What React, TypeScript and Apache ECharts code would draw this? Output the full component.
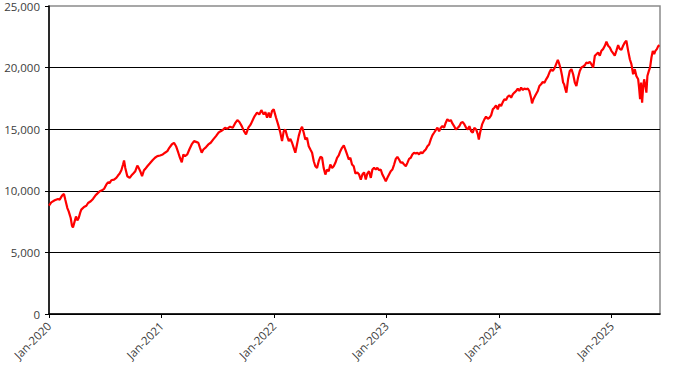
import React, { useEffect, useRef } from "react";
import * as echarts from "echarts";

// time in years since Jan-2020
const t = [
  0.000, 0.020, 0.051, 0.080, 0.095, 0.116, 0.133, 0.145, 0.163, 0.175, 0.193, 0.204, 0.213, 0.228, 0.240, 0.252, 0.264, 0.278, 0.287, 0.311,
  0.332, 0.347, 0.371, 0.391, 0.412, 0.429, 0.451, 0.471, 0.489, 0.509, 0.524, 0.540, 0.554, 0.578, 0.598, 0.613, 0.628, 0.643, 0.658, 0.667,
  0.678, 0.696, 0.717, 0.732, 0.749, 0.767, 0.785, 0.797, 0.815, 0.827, 0.844, 0.856, 0.874, 0.895,
  0.920, 0.942, 0.963, 0.987, 1.011, 1.031, 1.052, 1.069, 1.091, 1.111, 1.129, 1.149, 1.164, 1.180, 1.194, 1.209, 1.229, 1.247, 1.268, 1.289,
  1.313, 1.327, 1.342, 1.357, 1.372, 1.396, 1.416, 1.437, 1.460, 1.484, 1.505, 1.526, 1.544, 1.564, 1.585, 1.609, 1.633, 1.653, 1.674, 1.692,
  1.713, 1.733, 1.751, 1.772, 1.793, 1.816,
  1.828, 1.849, 1.869, 1.887, 1.908, 1.923, 1.938, 1.953, 1.967, 1.982, 1.997, 2.018, 2.036, 2.056, 2.071, 2.086, 2.100, 2.116, 2.131, 2.145,
  2.160, 2.175, 2.189, 2.204, 2.219, 2.234, 2.249, 2.264, 2.278, 2.293, 2.308, 2.323, 2.338, 2.353, 2.367, 2.382, 2.397, 2.412, 2.427, 2.441,
  2.456, 2.471, 2.486, 2.500, 2.516, 2.530, 2.545, 2.560, 2.575, 2.589, 2.604, 2.620, 2.634, 2.649, 2.664, 2.678, 2.693, 2.708, 2.723,
  2.740, 2.756, 2.771, 2.785, 2.800, 2.815, 2.829, 2.844, 2.860, 2.874, 2.889, 2.904, 2.918, 2.933, 2.948, 2.963, 2.978, 2.993, 3.007, 3.022,
  3.037, 3.052, 3.067, 3.082, 3.096, 3.111, 3.126, 3.140, 3.156, 3.171, 3.185, 3.200, 3.215, 3.229, 3.244, 3.260, 3.274, 3.289, 3.304, 3.318,
  3.333, 3.348, 3.363, 3.378, 3.393, 3.407, 3.422, 3.437, 3.452, 3.467, 3.482, 3.496, 3.511, 3.526, 3.540, 3.556, 3.571, 3.585, 3.600, 3.615,
  3.633, 3.647, 3.662, 3.677, 3.692, 3.707, 3.722, 3.736, 3.751, 3.766, 3.780, 3.796, 3.811, 3.820, 3.831, 3.849, 3.869, 3.884, 3.900, 3.914,
  3.929, 3.944, 3.958, 3.973, 3.988, 4.003, 4.018, 4.033, 4.047, 4.062, 4.077, 4.092, 4.107, 4.122, 4.136, 4.151, 4.166, 4.180, 4.196, 4.211,
  4.225, 4.240, 4.255, 4.269, 4.284, 4.293, 4.305, 4.323, 4.344, 4.358, 4.373, 4.388, 4.403, 4.418, 4.433, 4.447, 4.462, 4.477, 4.492, 4.507,
  4.522, 4.531, 4.548, 4.560, 4.569, 4.578, 4.589, 4.598, 4.613, 4.628, 4.643, 4.658, 4.673, 4.687, 4.702, 4.717, 4.732, 4.747, 4.762, 4.776,
  4.791, 4.806, 4.820, 4.836, 4.851, 4.865, 4.880, 4.895, 4.909, 4.924, 4.940, 4.954, 4.969, 4.984, 4.998, 5.013, 5.028, 5.042, 5.058, 5.073,
  5.087, 5.102, 5.117, 5.131, 5.147, 5.162, 5.176, 5.191, 5.206, 5.220, 5.236, 5.244, 5.253, 5.262, 5.271, 5.280, 5.289, 5.300, 5.309, 5.318,
  5.331, 5.342, 5.354, 5.366, 5.378, 5.389, 5.402, 5.413, 5.425,
];

const values = [
  8790, 9060, 9230, 9340, 9280, 9610, 9750, 9280, 8600, 8330, 7790, 7170, 7030, 7520, 7920, 7600, 7790, 8250, 8470, 8690,
  8790, 9010, 9150, 9340, 9610, 9770, 9960, 10040, 10150, 10500, 10690, 10640, 10860, 10910, 11050, 11240, 11400, 11670, 12130, 12460,
  11860, 11180, 11050, 11240, 11400, 11590, 12050, 11860, 11500, 11180, 11670, 11780, 11990, 12210,
  12480, 12680, 12810, 12870, 12950, 13090, 13220, 13490, 13760, 13900, 13620, 13090, 12680, 12320, 12950, 12810, 12950, 13350, 13760, 14030,
  13950, 13900, 13490, 13090, 13350, 13550, 13760, 13900, 14170, 14440, 14710, 14840, 14930, 15120, 15040, 15200, 15120, 15470, 15740, 15580,
  15250, 14840, 14580, 15120, 15390, 15850,
  16070, 16340, 16200, 16550, 16200, 16390, 15930, 16340, 15930, 16470, 16610, 15930, 15390, 14710, 14030, 14840, 14980, 14440, 14030, 14220,
  13900, 13490, 13090, 13760, 14440, 14930, 15200, 14710, 14170, 14300, 13620, 13350, 13090, 12400, 11990, 11860, 12400, 12760, 12680, 11860,
  11320, 11730, 11590, 12130, 11860, 11990, 12270, 12680, 12870, 13220, 13490, 13680, 13350, 12950, 12540, 12680, 12130, 11990, 11400,
  11500, 11320, 10910, 11320, 11500, 10910, 11400, 11590, 11050, 11730, 11860, 11730, 11860, 11670, 11730, 11320, 11050, 10770, 11050, 11320,
  11590, 11730, 12130, 12590, 12760, 12540, 12270, 12320, 12130, 11990, 12270, 12590, 12680, 12950, 13090, 13030, 13090, 12950, 13140, 13030,
  13220, 13350, 13620, 13760, 14170, 14500, 14710, 14930, 15120, 14840, 15120, 15250, 15120, 15530, 15800, 15660, 15740, 15470, 15250, 14980,
  15120, 15250, 15530, 15580, 15390, 15120, 14980, 15250, 14840, 14710, 15120, 14980, 14580, 14170, 14710, 15390, 15800, 16020, 15850, 15930,
  16120, 16610, 16750, 16940, 16610, 17020, 16880, 17200, 17430, 17370, 17650, 17750, 17560, 17830, 17970, 18100, 18300, 18100, 18380, 18180,
  18300, 18240, 18300, 18100, 17560, 17100, 17430, 17750, 18100, 18510, 18650, 18830, 18780, 19050, 19270, 19600, 19870, 19730, 19930, 20280,
  20630, 20410, 19870, 19320, 18790, 18650, 18240, 17970, 19050, 19730, 19870, 19460, 18790, 18510, 19190, 19730, 20010, 20090, 20190, 20410,
  20360, 20470, 20280, 20010, 20960, 21090, 21230, 20960, 21360, 21500, 21770, 22100, 21770, 21630, 21360, 21170, 20960, 21360, 21820, 21500,
  21440, 21770, 22040, 22180, 21360, 20680, 20280, 19460, 19870, 19320, 19050, 18380, 17430, 18780, 17160, 18380, 19050, 18510, 17970, 19320,
  19730, 20010, 20820, 21360, 21090, 21360, 21500, 21720, 21820,
];

const startYear = 2020;
const yearTicks = [0, 1, 2, 3, 4, 5];
const xMax = 5.43;
const yMax = 25000;
const yInterval = 5000;

export default function App() {
  const ref = useRef<HTMLDivElement>(null);
  useEffect(() => {
    if (!ref.current) return;
    const chart = echarts.init(ref.current, undefined, { renderer: "svg" });
    const font = "'Open Sans', 'DejaVu Sans', sans-serif";
    chart.setOption({
      animation: false,
      backgroundColor: "#ffffff",
      grid: {
        left: 49,
        right: 20,
        top: 6,
        bottom: 60,
        show: true,
        borderColor: "#8a8a8a",
        borderWidth: 1.5,
      },
      xAxis: {
        type: "value",
        min: 0,
        max: xMax,
        interval: 1,
        axisLine: { show: true, onZero: false, lineStyle: { color: "#000", width: 1.5 } },
        axisTick: { show: true, length: 4, customValues: yearTicks, lineStyle: { color: "#000" } },
        splitLine: { show: false },
        axisLabel: {
          customValues: yearTicks,
          rotate: 45,
          margin: 10,
          color: "#3c3c3c",
          fontSize: 11.5,
          fontFamily: font,
          formatter: (v: number) => "Jan-" + (startYear + Math.round(v)),
        },
      },
      yAxis: {
        type: "value",
        min: 0,
        max: yMax,
        interval: yInterval,
        axisLine: { show: true, lineStyle: { color: "#000", width: 1.5 } },
        axisTick: { show: true, length: 4, lineStyle: { color: "#000" } },
        splitLine: { show: true, showMaxLine: false, lineStyle: { color: "#000", width: 1 } },
        axisLabel: {
          margin: 9,
          color: "#3c3c3c",
          fontSize: 11.5,
          fontFamily: font,
          formatter: (v: number) => v.toLocaleString("en-US"),
        },
      },
      series: [
        {
          type: "line",
          data: t.map((x, i) => [x, values[i]]),
          showSymbol: false,
          symbol: "none",
          lineStyle: { color: "#ff0000", width: 2.2 },
          itemStyle: { color: "#ff0000" },
        },
      ],
    });
    return () => chart.dispose();
  }, []);
  return (
    <div
      ref={ref}
      style={{ position: "fixed", left: 0, top: 0, width: 680, height: 374, background: "#fff" }}
    />
  );
}
